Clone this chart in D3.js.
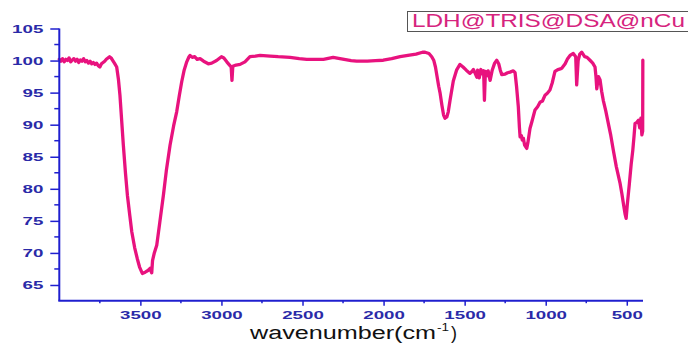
<!DOCTYPE html>
<html><head><meta charset="utf-8">
<script src="https://cdn.jsdelivr.net/npm/d3@7/dist/d3.min.js"></script>
<style>body{margin:0;background:#fff}svg{display:block}</style>
</head><body>
<script>
const wavenumber = [4000,3990,3980,3970,3960,3950,3940,3930,3920,3910,3900,3890,3880,3870,3860,3850,3840,3830,3820,3810,3800,3790,3780,3770,3760,3750,3740,3730,3720,3710,3700,3690,3680,3670,3660,3646,3635,3626,3615,3605,3592,3580,3565,3553,3535,3519,3505,3488,3470,3451,3440,3435,3430,3425,3415,3399,3380,3358,3340,3317,3295,3276,3260,3245,3230,3214,3200,3194,3180,3165,3150,3132,3110,3081,3060,3030,3000,2985,2967,2950,2940,2935,2930,2910,2885,2855,2824,2790,2762,2700,2650,2577,2520,2474,2420,2371,2311,2269,2200,2166,2100,2050,2002,1950,1898,1850,1800,1760,1744,1720,1703,1690,1680,1672,1660,1652,1640,1630,1621,1610,1601,1590,1570,1550,1529,1510,1490,1467,1455,1446,1435,1425,1420,1410,1400,1390,1383,1378,1372,1365,1355,1343,1330,1315,1302,1290,1280,1271,1250,1235,1220,1200,1189,1180,1169,1162,1158,1150,1145,1138,1130,1117,1110,1097,1085,1066,1050,1035,1020,1004,990,974,960,943,925,910,901,880,865,850,830,815,809,800,790,778,760,745,727,710,696,690,685,675,665,655,645,630,614,600,583,565,541,530,521,510,504,497,484,473,463,455,449,440,428,420,413,407,402,401];
const transmittance = [100.2,99.9,100.3,99.8,100.2,100.0,100.4,99.8,100.1,100.3,99.9,100.2,99.7,100.1,99.9,100.3,99.8,100.0,99.6,99.9,99.5,99.7,99.4,99.6,99.2,99.0,99.5,99.7,99.9,100.2,100.4,100.6,100.4,100.0,99.6,99.0,97.0,94.6,90.5,86.8,82.5,79.0,75.8,73.3,70.8,69.1,67.8,66.8,67.0,67.3,67.6,67.2,66.9,68.8,69.9,71.2,74.8,79.0,82.8,86.8,89.8,92.0,94.5,96.7,98.5,99.8,100.6,100.8,100.5,100.6,100.2,100.3,99.9,99.5,99.6,100.0,100.6,100.4,99.8,99.3,99.0,96.9,99.1,99.3,99.4,99.8,100.6,100.7,100.8,100.7,100.6,100.5,100.3,100.2,100.2,100.2,100.5,100.3,100.0,99.9,99.9,100.0,100.05,100.3,100.6,100.8,101.0,101.3,101.3,101.1,100.6,100.0,99.0,97.8,96.0,95.0,93.0,91.5,91.0,91.2,92.0,93.8,96.8,98.5,99.4,99.0,98.5,98.0,98.3,98.6,98.0,97.4,98.5,97.3,98.6,97.9,98.4,93.8,98.3,97.6,98.4,96.9,98.5,99.6,100.05,99.5,98.5,97.8,97.9,98.1,98.2,98.4,98.1,96.0,92.8,89.5,88.1,88.3,87.6,87.9,86.8,86.3,87.2,89.4,90.5,92.3,92.8,93.5,93.7,94.6,94.9,95.4,96.5,98.3,98.6,98.7,98.8,99.5,100.3,100.8,101.1,100.6,96.2,100.0,101.0,101.3,100.6,100.5,100.05,99.6,99.0,97.5,95.6,97.5,97.0,95.2,93.8,92.2,90.2,88.5,86.0,83.5,80.8,79.2,77.7,76.0,75.4,77.5,80.8,83.8,86.0,88.3,90.2,90.3,90.7,89.5,91.0,88.4,89.0,100.05];
const xTickValues = [3500,3000,2500,2000,1500,1000,500];
const xMinorValues = [3750,3250,2750,2250,1750,1250,750];
const yTickValues = [65,70,75,80,85,90,95,100,105];
const yMinorValues = [67.5,72.5,77.5,82.5,87.5,92.5,97.5,102.5];
const legendLabel = "LDH@TRIS@DSA@nCu";
const xTitle = "wavenumber(cm";

const W = 688, H = 346;
const svg = d3.select("body").append("svg").attr("width", W).attr("height", H);
const x = d3.scaleLinear().domain([4000, 400]).range([59.3, 643]);
const y = d3.scaleLinear().domain([62.55, 105]).range([300.7, 28.5]);
const axisBlue = "#1f1fcf", labelBlue = "#2a2aa8";
const lineCol = "#e8127e";

const data = wavenumber.map((w, i) => [w, transmittance[i]]);

// line
svg.append("path").datum(data)
  .attr("fill", "none").attr("stroke", lineCol).attr("stroke-width", 3.3)
  .attr("stroke-linejoin", "round").attr("stroke-linecap", "round")
  .attr("d", d3.line().x(d => x(d[0])).y(d => y(d[1])));

// y axis
const gy = svg.append("g").attr("transform", "translate(59.3,0)")
  .call(d3.axisLeft(y).tickValues(yTickValues).tickSize(9).tickSizeOuter(0).tickPadding(7).tickFormat(d3.format("d")));
gy.select(".domain").attr("stroke", axisBlue).attr("stroke-width", 2).attr("d", `M0,${y(105)}V${y(62.55)}`);
gy.selectAll(".tick line").attr("stroke", axisBlue).attr("stroke-width", 1.5);
gy.selectAll(".tick text").attr("fill", labelBlue).attr("font-family", "Liberation Sans, Arial, sans-serif")
  .attr("font-size", 11.5).attr("font-weight", "bold")
  .attr("textLength", function(d){ return String(d).length * 10.4; })
  .attr("lengthAdjust", "spacingAndGlyphs");
gy.selectAll(".minor").data(yMinorValues).enter().append("line").attr("class","minor")
  .attr("x1", -5).attr("x2", 0).attr("y1", d => y(d)).attr("y2", d => y(d))
  .attr("stroke", axisBlue).attr("stroke-width", 1.5);

// x axis
const gx = svg.append("g").attr("transform", `translate(0,300.7)`)
  .call(d3.axisBottom(x).tickValues(xTickValues).tickSize(5).tickSizeOuter(0).tickPadding(5).tickFormat(d3.format("d")));
gx.select(".domain").attr("stroke", axisBlue).attr("stroke-width", 2).attr("d", `M${x(4000)-1},0H${x(400)}`);
gx.selectAll(".tick line").attr("stroke", axisBlue).attr("stroke-width", 1.5);
gx.selectAll(".tick text").attr("fill", labelBlue).attr("font-family", "Liberation Sans, Arial, sans-serif")
  .attr("font-size", 11.5).attr("font-weight", "bold")
  .attr("textLength", function(d){ return String(d).length * 10.4; })
  .attr("lengthAdjust", "spacingAndGlyphs");
gx.selectAll(".minor").data(xMinorValues).enter().append("line").attr("class","minor")
  .attr("x1", d => x(d)).attr("x2", d => x(d)).attr("y1", 0).attr("y2", 2.5)
  .attr("stroke", axisBlue).attr("stroke-width", 1.5);

// x title
const tf = "Liberation Sans, Arial, sans-serif";
svg.append("text").attr("x", 250).attr("y", 339).attr("font-family", tf).attr("font-size", 18)
  .attr("fill", "#111").attr("textLength", 186).attr("lengthAdjust", "spacingAndGlyphs").text(xTitle);
svg.append("text").attr("x", 437).attr("y", 331).attr("font-family", tf).attr("font-size", 11)
  .attr("fill", "#111").attr("textLength", 12).attr("lengthAdjust", "spacingAndGlyphs").text("-1");
svg.append("text").attr("x", 451).attr("y", 339).attr("font-family", tf).attr("font-size", 18)
  .attr("fill", "#111").text(")");

// legend
svg.append("rect").attr("x", 407.5).attr("y", 11.5).attr("width", 290).attr("height", 20)
  .attr("fill", "#fff").attr("stroke", "#555").attr("stroke-width", 1);
svg.append("text").attr("x", 412).attr("y", 27)
  .attr("font-family", tf).attr("font-size", 17.5).attr("fill", "#d6247e")
  .attr("textLength", 273).attr("lengthAdjust", "spacingAndGlyphs").text(legendLabel);
</script>
</body></html>
